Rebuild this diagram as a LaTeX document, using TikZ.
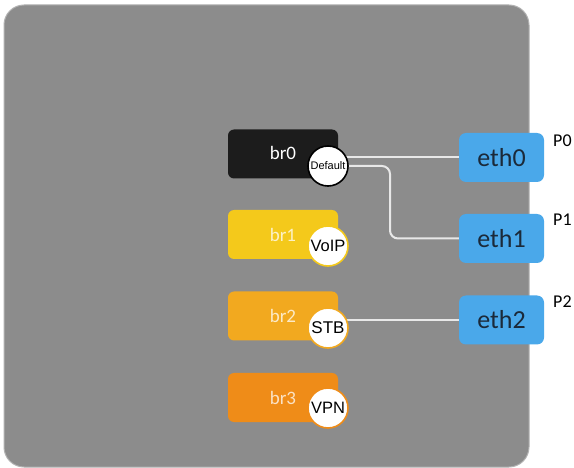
\documentclass[tikz,border=0pt]{standalone}
\usepackage{fontspec}
\setmainfont{Carlito}
\newfontfamily\arialf{Liberation Sans}
\definecolor{panelc}{HTML}{8C8C8C}
\definecolor{brzero}{HTML}{1C1C1C}
\definecolor{brone}{HTML}{F4C91B}
\definecolor{brtwo}{HTML}{F2A91F}
\definecolor{brthree}{HTML}{EF8C18}
\definecolor{ethc}{HTML}{4AA8EA}
\definecolor{ethtext}{HTML}{1B2A3A}
\definecolor{linec}{HTML}{E8E8E8}
\pgfdeclarelayer{bg}
\pgfdeclarelayer{lines}
\pgfsetlayers{bg,lines,main}
\tikzset{
  brbox/.style={rectangle, rounded corners=6pt, minimum width=110pt, minimum height=49pt, inner sep=0pt, fill=#1, font=\fontsize{19}{19}\selectfont},
  tag/.style={circle, minimum size=40pt, inner sep=0pt, fill=white, draw=#1, line width=1.6pt, text=black},
  ethbox/.style={rectangle, rounded corners=7pt, minimum width=85pt, minimum height=49pt, inner sep=0pt, fill=ethc, text=ethtext, font=\fontsize{26}{26}\selectfont},
  plabel/.style={anchor=west, inner sep=0pt, text=black, font=\fontsize{18}{18}\selectfont},
  wire/.style={draw=linec, line width=2pt}
}
\begin{document}
\begin{tikzpicture}[x=1pt,y=-1pt]
\useasboundingbox (0,0) rectangle (574,468);
\begin{pgfonlayer}{bg}
\fill[white] (0,0) rectangle (574,468);
\node[draw=gray!60!white, line width=1pt, fill=panelc, rounded corners=20pt, minimum width=525pt, minimum height=462pt, inner sep=0pt] (panel) at (266.5,236) {};
\end{pgfonlayer}
% bridges
\node[brbox=brzero, text=white] (br0) at (283,154) {\raisebox{3pt}{br0}};
\node[brbox=brone, text=white!75!brone] (br1) at (283,234.5) {br1};
\node[brbox=brtwo, text=white!75!brtwo] (br2) at (283,316) {br2};
\node[brbox=brthree, text=white!75!brthree] (br3) at (283,397.5) {br3};
% tags
\node[tag=black, font=\arialf\fontsize{11}{11}\selectfont] (def) at (328,166) {Default};
\node[tag=brone, font=\arialf\fontsize{16.5}{16.5}\selectfont] (voip) at (328,246) {VoIP};
\node[tag=brtwo, font=\arialf\fontsize{17}{17}\selectfont] (stb) at (328,328) {STB};
\node[tag=brthree, font=\arialf\fontsize{16.5}{16.5}\selectfont] (vpn) at (328,408) {VPN};
% ports
\node[ethbox] (eth0) at (501.5,157.5) {eth0};
\node[ethbox] (eth1) at (501.5,238.5) {eth1};
\node[ethbox] (eth2) at (501.5,320) {eth2};
\node[plabel] (p0) at (553,141) {P0};
\node[plabel] (p1) at (553,220) {P1};
\node[plabel] (p2) at (553,302) {P2};
% wires
\coordinate (turn) at (390,238.5);
\begin{pgfonlayer}{lines}
\draw[wire] (eth0.west) -- (def.center |- eth0.west);
\draw[wire, rounded corners=8pt] (def.center) -| (turn) -- (eth1.west);
\draw[wire] (eth2.west) -- (stb.center |- eth2.west);
\end{pgfonlayer}
\end{tikzpicture}
\end{document}
